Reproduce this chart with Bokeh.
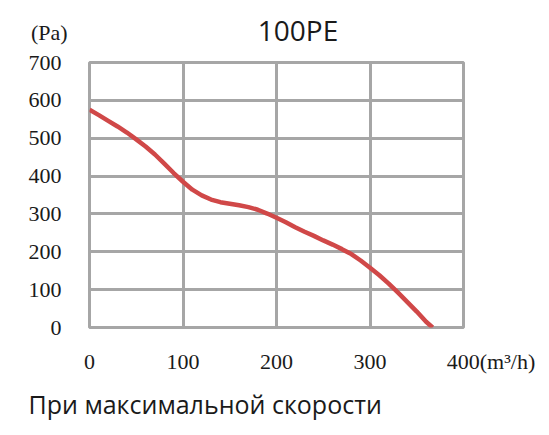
from bokeh.plotting import figure
from bokeh.models import Range1d, FixedTicker, Title, Div
from bokeh.layouts import column
from bokeh.embed import file_html
from bokeh.resources import INLINE

# data
flow = [0, 10, 20, 30, 40, 50, 60, 70, 80, 90, 100, 110, 120, 130, 140, 150, 160, 170, 180,
        190, 200, 210, 220, 230, 240, 250, 260, 270, 280, 290, 300, 310, 320, 330, 340, 350,
        360, 367]
pressure = [575, 561, 546, 531, 515, 497, 478, 457, 433, 408, 385, 364, 349, 338, 331, 327,
            323, 318, 311, 301, 290, 278, 265, 253, 242, 230, 219, 207, 194, 177, 158, 138,
            116, 92, 67, 42, 15, 0]
x_ticks = [0, 100, 200, 300, 400]
y_ticks = [0, 100, 200, 300, 400, 500, 600, 700]

title_text = "100PE"
y_unit = "(Pa)"
x_unit = "(m³/h)"
caption = "При максимальной скорости"

GRID = "#a6a6a6"
RED = "#d04848"
INK = "#1a1a1a"
SERIF = "Liberation Serif"
SANS = "Open Sans"
W = 541

# header strip holding the unit of the y axis and the chart title
head_html = (
    '<div style="position:relative;width:%dpx;height:50px;margin:0;padding:0;">'
    '<span style="position:absolute;left:31px;top:22px;font-family:\'%s\';font-size:22px;'
    'line-height:22px;color:%s;white-space:nowrap;">%s</span>'
    '<span style="position:absolute;left:298px;top:16px;transform:translateX(-50%%);'
    'font-family:\'%s\';font-size:28px;line-height:28px;color:%s;white-space:nowrap;">%s</span>'
    '</div>'
) % (W, SERIF, INK, y_unit, SANS, INK, title_text)
head = Div(text=head_html, width=W, height=50, margin=(0, 0, 0, 0))

p = figure(width=W, height=379, output_backend="svg", toolbar_location=None, title=None,
           x_range=Range1d(0, 400), y_range=Range1d(0, 700),
           min_border_left=89, min_border_right=78, min_border_top=12, min_border_bottom=101)
p.background_fill_color = "white"
p.border_fill_color = "white"
p.outline_line_color = GRID
p.outline_line_width = 3

cap = Title(text=caption, text_font=SANS, text_font_size="25px", text_font_style="normal",
            text_color=INK, align="left", offset=-61, standoff=17)
p.add_layout(cap, "below")

for ax in (p.xaxis[0], p.yaxis[0]):
    ax.axis_line_color = None
    ax.major_tick_line_color = None
    ax.minor_tick_line_color = None
    ax.major_label_text_font = SERIF
    ax.major_label_text_font_size = "22px"
    ax.major_label_text_color = INK

p.xaxis[0].major_label_standoff = 15
p.xaxis[0].ticker = FixedTicker(ticks=x_ticks)
p.xaxis[0].major_label_overrides = {400: "\u2003\u2003\u2002400" + x_unit}
p.yaxis[0].ticker = FixedTicker(ticks=y_ticks)
p.yaxis[0].major_label_standoff = 22

p.xgrid.ticker = FixedTicker(ticks=x_ticks)
p.ygrid.ticker = FixedTicker(ticks=y_ticks)
for g in (p.xgrid[0], p.ygrid[0]):
    g.grid_line_color = GRID
    g.grid_line_width = 3

p.line(flow, pressure, line_color=RED, line_width=4.5, line_join="round")

open("out.html", "w").write(file_html(column(head, p, spacing=0), INLINE))
